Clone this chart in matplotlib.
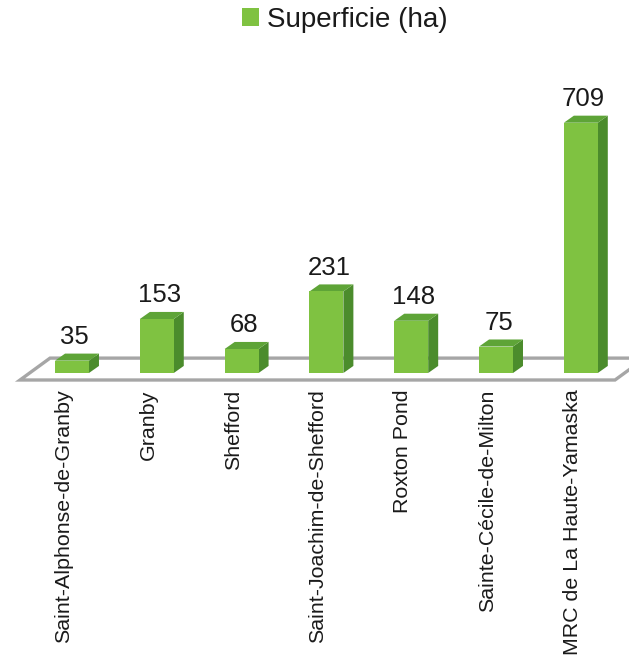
import numpy as np
import matplotlib
matplotlib.use('Agg')
import matplotlib.pyplot as plt
from matplotlib.patches import Polygon, Patch

plt.rcParams['font.family'] = ['Liberation Sans', 'DejaVu Sans']

# surface area per municipality (ha)
categories = ['Saint-Alphonse-de-Granby', 'Granby', 'Shefford',
              'Saint-Joachim-de-Shefford', 'Roxton Pond',
              'Sainte-Cécile-de-Milton', 'MRC de La Haute-Yamaska']
superficie = [35, 153, 68, 231, 148, 75, 709]
series_label = 'Superficie (ha)'

### colours and 3d look
front_color = '#7fc241'
side_color = '#4b8c2c'
top_color = '#5ea437'
floor_edge = '#a6a6a6'
text_color = '#1a1a1a'

bar_width = 0.40
depth_dx = 0.118      # side face offset, x units
depth_dy = 20.0       # side face offset, ha units
floor_dx = 0.354
floor_dy = 62.0

fig = plt.figure(figsize=(6.29, 6.60), dpi=100)
ax = fig.add_axes([0.0, 0.4121, 1.0, 0.497])
ax.set_xlim(-0.849, 6.568)
ax.set_ylim(-42.5, 886.7)
ax.axis('off')

x = np.arange(len(categories))

# floor plate under the bars
fl_left, fl_right, fl_front = -0.613, 6.403, -19.8
floor = Polygon([(fl_left, fl_front), (fl_right, fl_front),
                 (fl_right + floor_dx, fl_front + floor_dy),
                 (fl_left + floor_dx, fl_front + floor_dy)],
                closed=True, facecolor='white', edgecolor=floor_edge,
                lw=2.4, zorder=1, clip_on=False)
ax.add_patch(floor)

# front faces
bars = ax.bar(x, superficie, width=bar_width, color=front_color,
              edgecolor='none', zorder=3)

for xi, v in zip(x, superficie):
    l = xi - bar_width / 2
    r = xi + bar_width / 2
    side = Polygon([(r, 0), (r + depth_dx, depth_dy),
                    (r + depth_dx, v + depth_dy), (r, v)],
                   closed=True, facecolor=side_color, edgecolor='none', zorder=2)
    top = Polygon([(l, v), (r, v), (r + depth_dx, v + depth_dy),
                   (l + depth_dx, v + depth_dy)],
                  closed=True, facecolor=top_color, edgecolor='none', zorder=2)
    ax.add_patch(side)
    ax.add_patch(top)
    ax.annotate(str(v), (xi + 0.03, v + depth_dy), xytext=(0, 3.5),
                textcoords='offset points', ha='center', va='bottom',
                fontsize=18.5, color=text_color)

# category names, rotated under the floor
for xi, name in zip(x, categories):
    ax.annotate(name, (xi - 0.1, -42.5), xytext=(0, -1),
                textcoords='offset points', rotation=90, ha='center',
                va='top', fontsize=15.4, color=text_color, annotation_clip=False)

fig.legend(handles=[Patch(facecolor=front_color, edgecolor='none')],
           labels=[series_label], loc='upper center',
           bbox_to_anchor=(0.548, 1.028), frameon=False, fontsize=20,
           handlelength=0.6, handleheight=0.6, handletextpad=0.3,
           labelcolor=text_color)

fig.savefig('out.png', dpi=100, facecolor='white')
